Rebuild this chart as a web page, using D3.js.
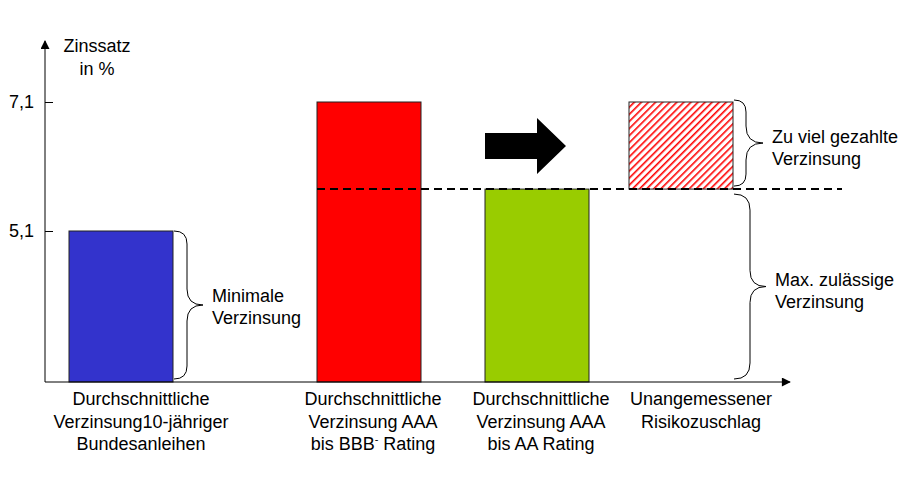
<!DOCTYPE html>
<html>
<head>
<meta charset="utf-8">
<script src="https://cdn.jsdelivr.net/npm/d3@7"></script>
<style>
  body { margin: 0; background: #fff; }
  text { font-family: "Liberation Sans", Arial, sans-serif; font-size: 18px; fill: #000; }
</style>
</head>
<body>
<script>
(function () {
  var categories = ["bund", "aaaBbb", "aaaAa", "zuschlag"];
  var values = [5.1, 7.1, 5.75];
  var excess = [5.75, 7.1];
  var yTicks = [5.1, 7.1];
  var colors = ["#3333cc", "#ff0000", "#99cc00"];
  var labels = [
    ["Durchschnittliche", "Verzinsung10-jähriger", "Bundesanleihen"],
    ["Durchschnittliche", "Verzinsung AAA", "bis BBB|-| Rating"],
    ["Durchschnittliche", "Verzinsung AAA", "bis AA Rating"],
    ["Unangemessener", "Risikozuschlag"]
  ];

  var axisY = 382;
  var axisX = 45;
  var barW = 104;

  var svg = d3.select("body")
    .append("svg")
    .attr("width", 906)
    .attr("height", 484);

  var defs = svg.append("defs");
  defs.append("marker")
    .attr("id", "arrow-head")
    .attr("viewBox", "0 0 10 10")
    .attr("refX", 9)
    .attr("refY", 5)
    .attr("markerWidth", 10)
    .attr("markerHeight", 9)
    .attr("markerUnits", "userSpaceOnUse")
    .attr("orient", "auto")
  .append("polygon")
    .attr("points", "0,0 10,5 0,10")
    .attr("fill", "black");

  var pat = defs.append("pattern")
    .attr("id", "hatch")
    .attr("patternUnits", "userSpaceOnUse")
    .attr("width", 5)
    .attr("height", 5)
    .attr("patternTransform", "rotate(45)");
  pat.append("rect").attr("width", 5).attr("height", 5).attr("fill", "white");
  pat.append("line")
    .attr("x1", 0).attr("y1", 0).attr("x2", 0).attr("y2", 5)
    .attr("stroke", "#ff0000")
    .attr("stroke-width", 3.2);

  var y = d3.scaleLinear().domain([5.1, 7.1]).range([231, 102]);
  var x = d3.scaleOrdinal().domain(categories).range([69, 317, 485, 629]);
  var labelX = d3.scaleOrdinal().domain(categories).range([141, 373, 541, 701]);

  // bars
  svg.selectAll("rect.bar")
    .data(values)
  .enter()
    .append("rect")
    .attr("class", "bar")
    .attr("x", function (d, i) { return x(categories[i]); })
    .attr("y", function (d) { return y(d); })
    .attr("width", barW)
    .attr("height", function (d) { return axisY - y(d); })
    .attr("fill", function (d, i) { return colors[i]; })
    .attr("stroke", "#222")
    .attr("stroke-width", 1);

  // hatched excess bar
  svg.append("rect")
    .attr("x", x(categories[3]))
    .attr("y", y(excess[1]))
    .attr("width", barW)
    .attr("height", y(excess[0]) - y(excess[1]))
    .attr("fill", "url(#hatch)")
    .attr("stroke", "#222")
    .attr("stroke-width", 1);

  // dashed line at max allowed rate
  svg.append("line")
    .attr("x1", x(categories[1]))
    .attr("x2", 842)
    .attr("y1", y(excess[0]))
    .attr("y2", y(excess[0]))
    .attr("stroke", "black")
    .attr("stroke-width", 2)
    .attr("stroke-dasharray", "8,5");

  // axes
  svg.append("line")
    .attr("x1", axisX).attr("y1", axisY)
    .attr("x2", axisX).attr("y2", 41)
    .attr("stroke", "black")
    .attr("marker-end", "url(#arrow-head)");
  svg.append("line")
    .attr("x1", axisX).attr("y1", axisY)
    .attr("x2", 790).attr("y2", axisY)
    .attr("stroke", "black")
    .attr("marker-end", "url(#arrow-head)");

  var yAxis = svg.append("g")
    .attr("transform", "translate(" + axisX + ",0)")
    .call(d3.axisLeft(y)
      .tickValues(yTicks)
      .tickSize(7)
      .tickPadding(4)
      .tickFormat(function (d) { return String(d).replace(".", ","); }));
  yAxis.select(".domain").remove();
  yAxis.selectAll(".tick line").attr("x2", 8).attr("stroke", "black");
  yAxis.selectAll(".tick text")
    .style("font-family", "'Liberation Sans', Arial, sans-serif")
    .style("font-size", "18px")
    .attr("fill", "black");

  var title = svg.append("text").attr("text-anchor", "middle");
  title.append("tspan").attr("x", 97).attr("y", 52).text("Zinssatz");
  title.append("tspan").attr("x", 97).attr("y", 75).text("in %");

  // category labels
  labels.forEach(function (lines, i) {
    var t = svg.append("text").attr("text-anchor", "middle");
    lines.forEach(function (line, j) {
      var ts = t.append("tspan").attr("x", labelX(categories[i])).attr("y", 405 + j * 22.5);
      var parts = line.split("|");
      if (parts.length === 1) {
        ts.text(line);
      } else {
        ts.text(parts[0]);
        t.append("tspan").attr("dy", -7).style("font-size", "11px").text(parts[1]);
        t.append("tspan").attr("dy", 7).text(parts[2]);
      }
    });
  });

  // braces
  var brace = function (x0, x1, xt, y0, y1) {
    var ym = (y0 + y1) / 2;
    var r = x1 - x0;
    var r2 = xt - x1;
    return "M" + x0 + "," + y0 +
      " Q" + x1 + "," + y0 + " " + x1 + "," + (y0 + r) +
      " L" + x1 + "," + (ym - r2) +
      " Q" + x1 + "," + ym + " " + xt + "," + ym +
      " Q" + x1 + "," + ym + " " + x1 + "," + (ym + r2) +
      " L" + x1 + "," + (y1 - r) +
      " Q" + x1 + "," + y1 + " " + x0 + "," + y1;
  };

  var braces = [
    { x0: 174, x1: 187, xt: 203, y0: y(values[0]), y1: axisY - 3, lines: ["Minimale", "Verzinsung"], ty: 302 },
    { x0: 734, x1: 746, xt: 763, y0: y(excess[1]) - 2, y1: y(excess[0]) - 3, lines: ["Zu viel gezahlte", "Verzinsung"], ty: 143 },
    { x0: 734, x1: 750, xt: 766, y0: y(excess[0]) + 5, y1: axisY - 3, lines: ["Max. zulässige", "Verzinsung"], ty: 286 }
  ];

  braces.forEach(function (b) {
    svg.append("path")
      .attr("d", brace(b.x0, b.x1, b.xt, b.y0, b.y1))
      .attr("fill", "none")
      .attr("stroke", "black")
      .attr("stroke-width", 1);
    var t = svg.append("text");
    b.lines.forEach(function (line, j) {
      t.append("tspan").attr("x", b.xt + 9).attr("y", b.ty + j * 22).text(line);
    });
  });

  // big arrow
  var ax = 485, ay = 146;
  svg.append("path")
    .attr("d", "M" + ax + "," + (ay - 13) +
      " L" + (ax + 52) + "," + (ay - 13) +
      " L" + (ax + 52) + "," + (ay - 28) +
      " L" + (ax + 81) + "," + ay +
      " L" + (ax + 52) + "," + (ay + 28) +
      " L" + (ax + 52) + "," + (ay + 13) +
      " L" + ax + "," + (ay + 13) + " Z")
    .attr("fill", "black");
})();
</script>
</body>
</html>
